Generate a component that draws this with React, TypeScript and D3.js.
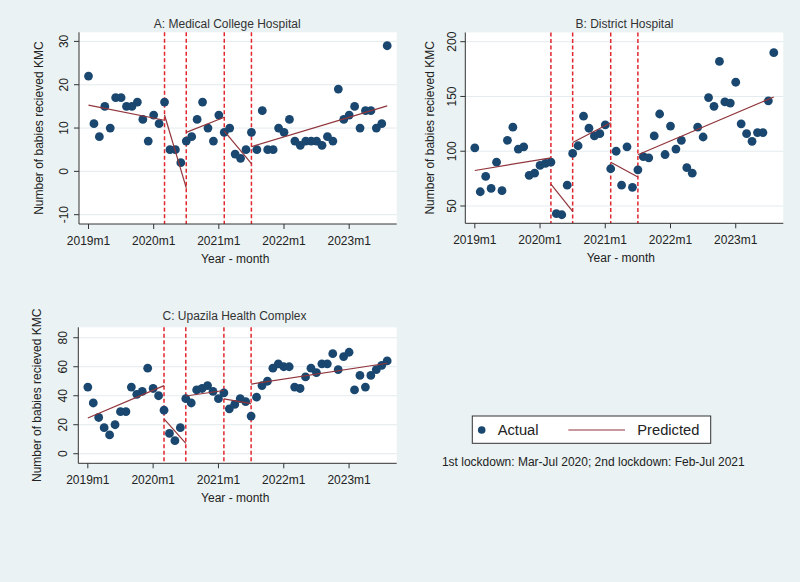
import { useEffect, useRef } from "react";
import * as d3 from "d3";

// months 2019m1 .. 2023m8, as index from 2019m1
const monthIdx = d3.range(56);
const xTickIdx = [0, 12, 24, 36, 48];
const xTickLabels = ["2019m1", "2020m1", "2021m1", "2022m1", "2023m1"];
// 2020m3, 2020m7, 2021m2, 2021m7
const lockdownIdx = [14, 18, 25, 30];

const kmcMedical = [
  22, 11, 8, 15, 10, 17, 17, 15, 15, 16, 12, 7, 13, 11, 16, 5, 5, 2, 7, 8,
  12, 16, 10, 7, 13, 9, 10, 4, 3, 5, 9, 5, 14, 5, 5, 10, 9, 12, 7, 6,
  7, 7, 7, 6, 8, 7, 19, 12, 13, 15, 10, 14, 14, 10, 11, 29,
];
const kmcDistrict = [
  103, 63, 77, 66, 90, 64, 110, 122, 102, 104, 78, 80, 87, 89, 90, 43, 42, 69, 98, 105,
  132, 121, 114, 116, 124, 84, 100, 69, 104, 67, 83, 95, 94, 114, 134, 97, 123, 102, 110, 85,
  80, 122, 113, 149, 141, 182, 145, 144, 163, 125, 116, 109, 117, 117, 146, 190,
];
const kmcUpazila = [
  46, 35, 25, 18, 13, 20, 29, 29, 46, 41, 43, 59, 45, 40, 30, 14, 9, 18, 38, 35,
  44, 45, 47, 43, 38, 42, 31, 34, 38, 36, 26, 39, 47, 50, 59, 62, 60, 60, 46, 45,
  53, 59, 56, 62, 62, 69, 58, 67, 70, 44, 54, 46, 54, 58, 61, 64,
];

// predicted segments: [from month, to month, predicted at from, predicted at to]
const predMedical = [
  [0, 14, 15.3, 11.8],
  [14, 18, 13.0, -3.8],
  [18, 25, 9.0, 12.5],
  [25, 30, 9.3, 1.8],
  [30, 55, 5.7, 15.1],
];
const predDistrict = [
  [0, 14, 82.4, 94.0],
  [14, 18, 70.0, 45.0],
  [18, 25, 108.0, 126.0],
  [25, 30, 90.0, 76.5],
  [30, 55, 96.8, 149.5],
];
const predUpazila = [
  [0, 14, 24.6, 47.0],
  [14, 18, 24.0, 7.2],
  [18, 25, 39.8, 43.6],
  [25, 30, 37.8, 34.5],
  [30, 55, 48.0, 62.4],
];

const ticksMedical = [-10, 0, 10, 20, 30];
const ticksDistrict = [50, 100, 150, 200];
const ticksUpazila = [0, 20, 40, 60, 80];

const W = 800;
const H = 582;
const FONT = "'Liberation Sans', Arial, sans-serif";
const BG = "#eaf2f3";
const NAVY = "#1a476f";
const MAROON = "#90353b";
const RED = "#e2262e";
const TXT = "#222";

const panels = [
  {
    title: "A: Medical College Hospital", values: kmcMedical, pred: predMedical, ticks: ticksMedical,
    yDomain: [-12.15, 32.1], l: 79, r: 396.7, t: 32.3, b: 224,
    titleX: 227.2, titleY: 24, xTitleX: 235.2, yLabOff: 15.7, yTitleOff: 40.3,
  },
  {
    title: "B: District Hospital", values: kmcDistrict, pred: predDistrict, ticks: ticksDistrict,
    yDomain: [34.2, 208.4], l: 465.3, r: 783.3, t: 32.5, b: 223.3,
    titleX: 624.5, titleY: 24, xTitleX: 620.8, yLabOff: 14, yTitleOff: 35.3,
  },
  {
    title: "C: Upazila Health Complex", values: kmcUpazila, pred: predUpazila, ticks: ticksUpazila,
    yDomain: [-6.6, 87.2], l: 78.3, r: 396.7, t: 327.3, b: 463.3,
    titleX: 234.5, titleY: 316, xTitleX: 235.2, yLabOff: 15.8, yTitleOff: 41.3,
  },
];

export default function App() {
  const ref = useRef<SVGSVGElement>(null);
  useEffect(() => {
    if (!ref.current) return;
    const svg = d3.select(ref.current);
    svg.selectAll("*").remove();
    svg.append("rect").attr("width", W).attr("height", H).attr("fill", BG);

    panels.forEach((p) => {
      const g = svg.append("g").attr("font-family", FONT);
      const x = d3.scaleLinear().domain([-1.75, 56.75]).range([p.l, p.r]);
      const y = d3.scaleLinear().domain(p.yDomain).range([p.b, p.t]);

      g.append("rect")
        .attr("x", p.l).attr("y", p.t)
        .attr("width", p.r - p.l).attr("height", p.b - p.t)
        .attr("fill", "#fff");

      // grid
      g.selectAll(".grid").data(p.ticks).join("line")
        .attr("x1", p.l).attr("x2", p.r)
        .attr("y1", (d) => y(d)).attr("y2", (d) => y(d))
        .attr("stroke", "#e3ebee").attr("stroke-width", 1);

      // lockdown lines
      g.selectAll(".xl").data(lockdownIdx).join("line")
        .attr("x1", (d) => x(d)).attr("x2", (d) => x(d))
        .attr("y1", p.t).attr("y2", p.b)
        .attr("stroke", RED).attr("stroke-width", 1.5)
        .attr("stroke-dasharray", "4,2.5");

      // actual
      g.selectAll(".pt").data(monthIdx).join("circle")
        .attr("cx", (d) => x(d)).attr("cy", (d) => y(p.values[d]))
        .attr("r", 4.4).attr("fill", NAVY);

      // predicted
      g.selectAll(".pr").data(p.pred).join("line")
        .attr("x1", (d) => x(d[0])).attr("x2", (d) => x(d[1]))
        .attr("y1", (d) => y(d[2])).attr("y2", (d) => y(d[3]))
        .attr("stroke", MAROON).attr("stroke-width", 1.2);

      // axes
      g.append("line").attr("x1", p.l).attr("x2", p.l).attr("y1", p.t).attr("y2", p.b)
        .attr("stroke", "#333").attr("stroke-width", 1);
      g.append("line").attr("x1", p.l).attr("x2", p.r).attr("y1", p.b).attr("y2", p.b)
        .attr("stroke", "#333").attr("stroke-width", 1);

      g.selectAll(".yt").data(p.ticks).join("line")
        .attr("x1", p.l - 5).attr("x2", p.l)
        .attr("y1", (d) => y(d)).attr("y2", (d) => y(d))
        .attr("stroke", "#333");
      g.selectAll(".yl").data(p.ticks).join("text")
        .attr("transform", (d) => `translate(${p.l - p.yLabOff},${y(d)}) rotate(-90)`)
        .attr("text-anchor", "middle").attr("dy", "0.36em")
        .attr("font-size", 12).attr("fill", TXT)
        .text((d) => d);

      g.selectAll(".xt").data(xTickIdx).join("line")
        .attr("x1", (d) => x(d)).attr("x2", (d) => x(d))
        .attr("y1", p.b).attr("y2", p.b + 5)
        .attr("stroke", "#333");
      g.selectAll(".xlab").data(xTickIdx).join("text")
        .attr("x", (d) => x(d)).attr("y", p.b + 16.7)
        .attr("text-anchor", "middle").attr("dy", "0.36em")
        .attr("font-size", 12).attr("fill", TXT)
        .text((d, i) => xTickLabels[i]);

      g.append("text")
        .attr("x", p.xTitleX).attr("y", p.b + 34.3)
        .attr("text-anchor", "middle").attr("dy", "0.36em")
        .attr("font-size", 12).attr("fill", TXT)
        .text("Year - month");

      g.append("text")
        .attr("transform", `translate(${p.l - p.yTitleOff},${(p.t + p.b) / 2}) rotate(-90)`)
        .attr("text-anchor", "middle").attr("dy", "0.36em")
        .attr("font-size", 12).attr("fill", TXT)
        .text("Number of babies recieved KMC");

      g.append("text")
        .attr("x", p.titleX).attr("y", p.titleY)
        .attr("text-anchor", "middle").attr("dy", "0.36em")
        .attr("font-size", 12).attr("fill", "#333")
        .text(p.title);
    });

    // legend
    const lg = svg.append("g").attr("font-family", FONT);
    lg.append("rect")
      .attr("x", 472.3).attr("y", 416).attr("width", 238.4).attr("height", 27.3)
      .attr("fill", "#fff").attr("stroke", "#333").attr("stroke-width", 1);
    lg.append("circle").attr("cx", 481.7).attr("cy", 430).attr("r", 3.8).attr("fill", NAVY);
    lg.append("text").attr("x", 497.7).attr("y", 430).attr("dy", "0.36em")
      .attr("font-size", 14.7).attr("fill", TXT).text("Actual");
    lg.append("line").attr("x1", 568.3).attr("x2", 625).attr("y1", 430).attr("y2", 430)
      .attr("stroke", MAROON).attr("stroke-width", 1.2);
    lg.append("text").attr("x", 637.3).attr("y", 430).attr("dy", "0.36em")
      .attr("font-size", 14.7).attr("fill", TXT).text("Predicted");

    lg.append("text").attr("x", 593.3).attr("y", 461.7).attr("dy", "0.36em")
      .attr("text-anchor", "middle")
      .attr("font-size", 12).attr("fill", TXT)
      .text("1st lockdown: Mar-Jul 2020; 2nd lockdown: Feb-Jul 2021");
  }, []);
  return (
    <svg
      ref={ref}
      width={W}
      height={H}
      style={{ position: "absolute", left: 0, top: 0, display: "block" }}
    />
  );
}
